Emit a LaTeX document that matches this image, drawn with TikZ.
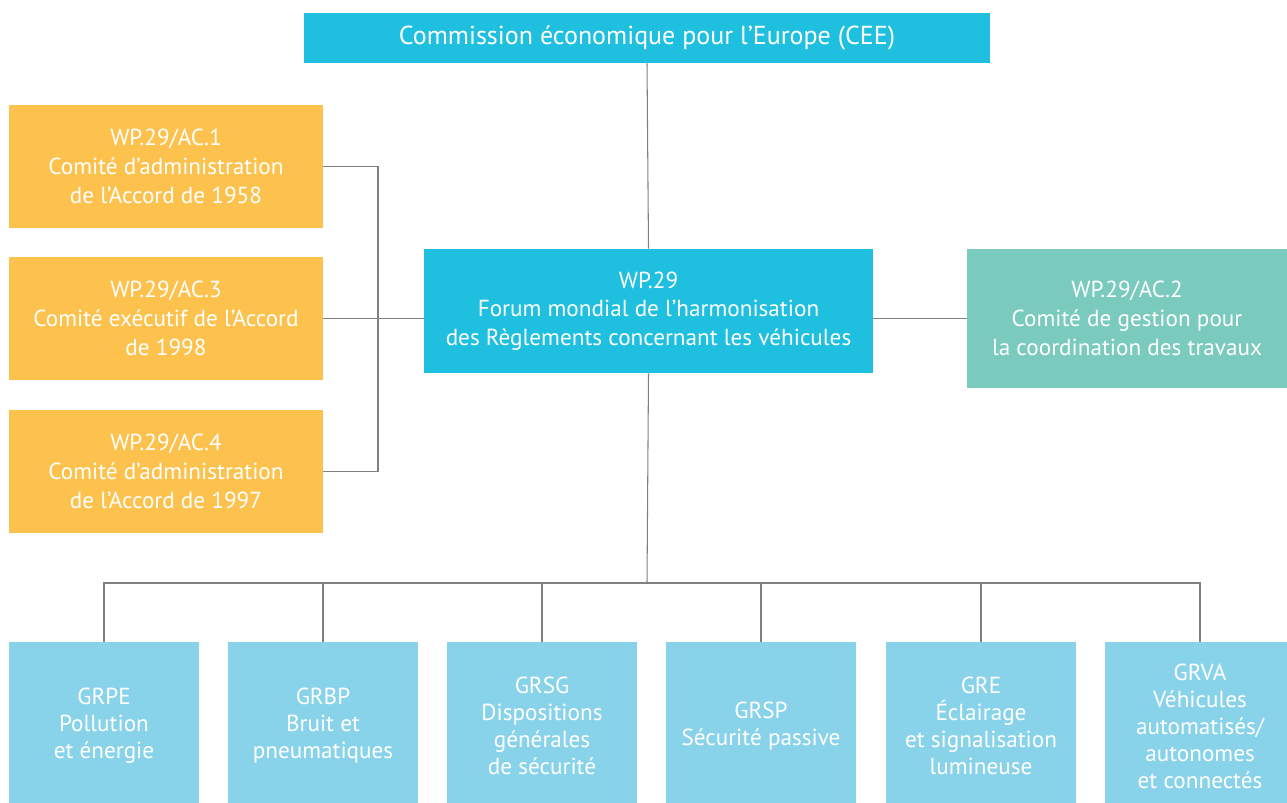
\documentclass[tikz,border=0pt]{standalone}
\usepackage{fontspec}
\setmainfont{PT Sans}
\usepackage{xcolor}
\definecolor{ceeblue}{RGB}{31,191,224}
\definecolor{acorange}{RGB}{253,194,77}
\definecolor{acteal}{RGB}{122,202,189}
\definecolor{grblue}{RGB}{137,211,234}
\definecolor{linegray}{RGB}{128,128,128}

\tikzset{
box/.style={inner sep=0pt,align=center,text=white,font=\fontsize{13.2}{16.3}\selectfont},
topbox/.style={box,fill=ceeblue},
acbox/.style={box,fill=acorange,minimum width=6.28cm,minimum height=2.46cm},
grbox/.style={box,fill=grblue,minimum width=3.8cm,minimum height=3.36cm,font=\fontsize{13.2}{15.4}\selectfont},
link/.style={draw=linegray,line width=0.6pt}
}

\begin{document}
\begin{tikzpicture}[x=0.02cm,y=-0.02cm]
\useasboundingbox (0,0) rectangle (1287,803);

\node[topbox,minimum width=13.72cm,minimum height=1cm,font=\fontsize{14.8}{18}\selectfont] (cee) at (647,38)
  {Commission économique pour l’Europe (CEE)};
\node[topbox,minimum width=8.98cm,minimum height=2.48cm] (wp) at (648.5,311)
  {WP.29\\Forum mondial de l’harmonisation\\des Règlements concernant les véhicules};

\node[acbox] (ac1) at (166,166.5) {WP.29/AC.1\\Comité d’administration\\de l’Accord de 1958};
\node[acbox] (ac3) at (166,318.5) {WP.29/AC.3\\Comité exécutif de l’Accord\\de 1998};
\node[acbox] (ac4) at (166,471.5) {WP.29/AC.4\\Comité d’administration\\de l’Accord de 1997};

\node[box,fill=acteal,minimum width=6.4cm,minimum height=2.78cm] (ac2) at (1127,318.5)
  {WP.29/AC.2\\Comité de gestion pour\\la coordination des travaux};

% groupes de travail
\node[grbox] (grpe) at (104,726) {GRPE\\Pollution\\et énergie};
\node[grbox] (grbp) at (323,726) {GRBP\\Bruit et\\pneumatiques};
\node[grbox] (grsg) at (542,726) {GRSG\\Dispositions\\générales\\de sécurité};
\node[grbox] (grsp) at (761,726) {GRSP\\Sécurité passive};
\node[grbox] (gre)  at (981,726) {GRE\\Éclairage\\et signalisation\\lumineuse};
\node[grbox] (grva) at (1200,726) {GRVA\\Véhicules\\automatisés/\\autonomes\\et connectés};

\coordinate (lbar) at (378,318);
\coordinate (bus) at (647,583);

\draw[link] (cee.south) -- (wp.north);
\draw[link] (ac1.east) -| (lbar) |- (ac4.east);
\draw[link] (ac3.east) -- (wp.west |- ac3.east);
\draw[link] (wp.east |- ac2.west) -- (ac2.west);
\draw[link] (wp.south) -- (bus);
\foreach \g in {grpe,grbp,grsg,grsp,gre,grva}
  \draw[link] (\g.north) |- (bus);
\end{tikzpicture}
\end{document}
